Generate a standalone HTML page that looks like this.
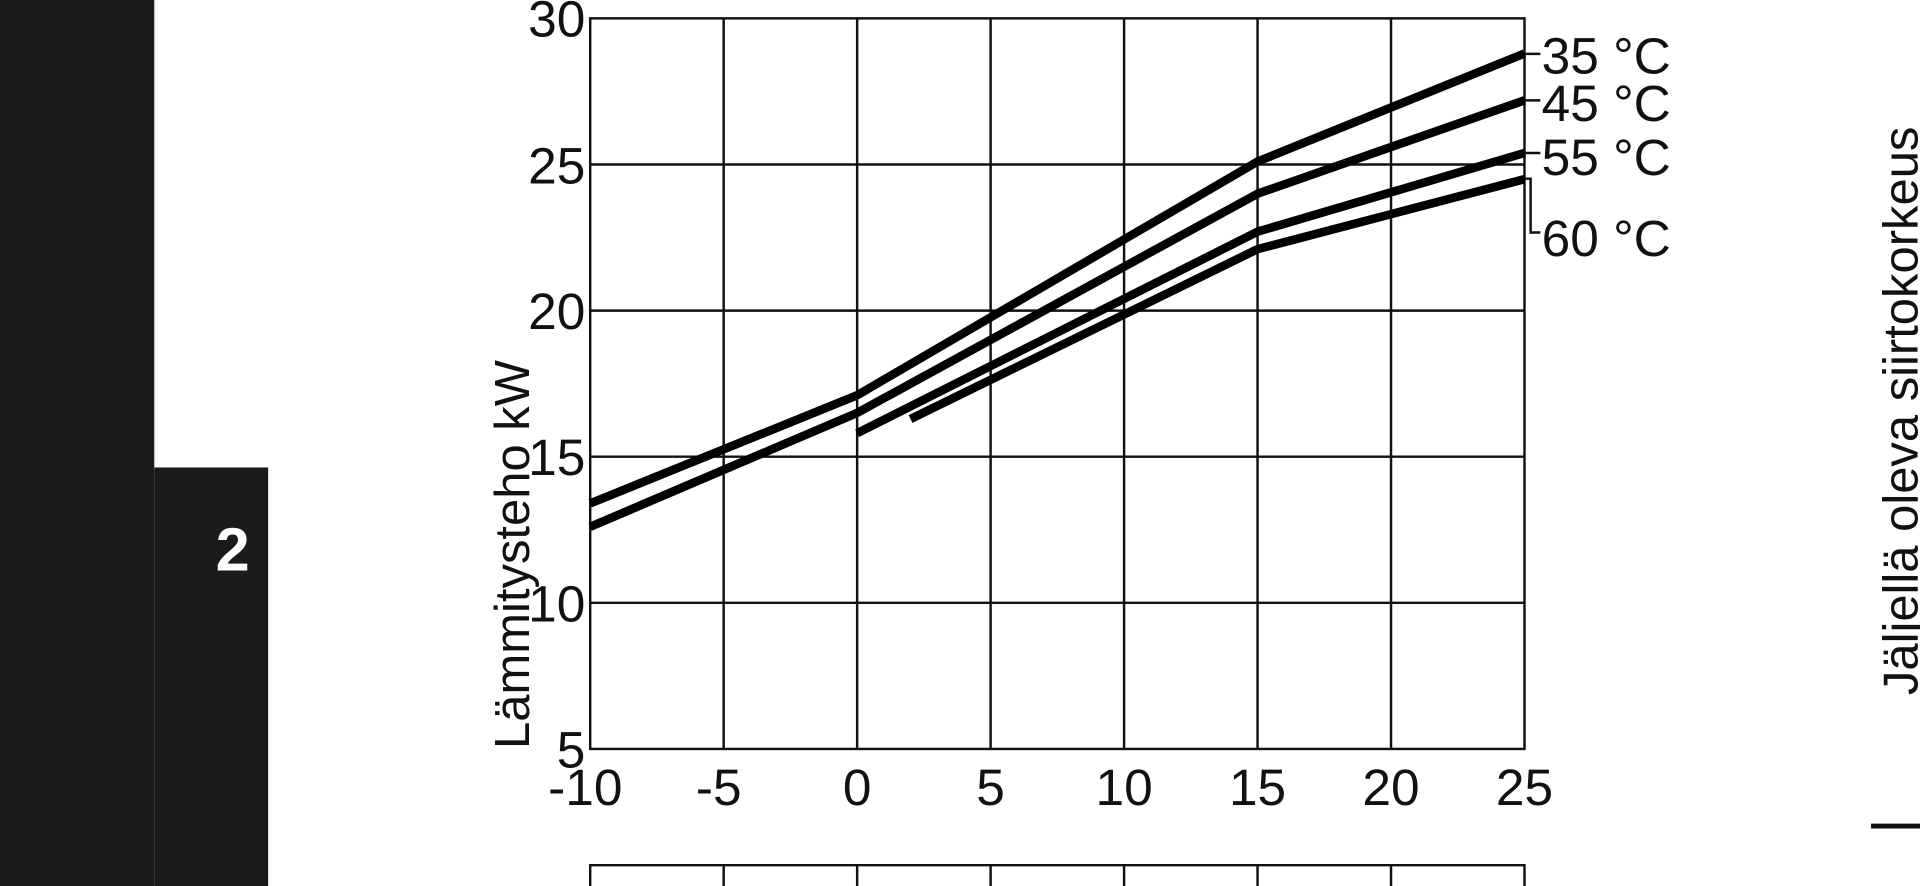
<!DOCTYPE html>
<html><head><meta charset="utf-8"><style>
html,body{margin:0;padding:0;background:#fff;width:1920px;height:886px;overflow:hidden}
svg{display:block}
text{font-family:"Liberation Sans",Arial,sans-serif;fill:#111}
</style></head><body>
<svg width="1920" height="886" viewBox="0 0 1568 724" preserveAspectRatio="none">
<rect width="1568" height="724" fill="#fff"/>
<rect x="0" y="0" width="126" height="724" fill="#1b1b1c"/>
<rect x="126" y="382" width="93" height="342" fill="#1b1b1c"/>
<text x="190" y="466" font-size="50" font-weight="bold" text-anchor="middle" style="fill:#fff">2</text>
<g stroke="#111" stroke-width="2" fill="none">
<rect x="482" y="15" width="763" height="597"/>
<line x1="591" y1="15" x2="591" y2="612"/><line x1="700" y1="15" x2="700" y2="612"/>
<line x1="809" y1="15" x2="809" y2="612"/><line x1="918" y1="15" x2="918" y2="612"/>
<line x1="1027" y1="15" x2="1027" y2="612"/><line x1="1136" y1="15" x2="1136" y2="612"/>
<line x1="482" y1="134.4" x2="1245" y2="134.4"/><line x1="482" y1="253.8" x2="1245" y2="253.8"/>
<line x1="482" y1="373.2" x2="1245" y2="373.2"/><line x1="482" y1="492.6" x2="1245" y2="492.6"/>
<path d="M482 724V707H1245V724M591 707V724M700 707V724M809 707V724M918 707V724M1027 707V724M1136 707V724"/>
<path d="M1245 44H1258M1245 82H1258M1245 125H1258M1245 146H1250V190H1258"/>
</g>
<g stroke="#000" stroke-width="7" fill="none" stroke-linejoin="round">
<polyline points="482,411.4 700,323 1027,132 1245,43.7"/>
<polyline points="482,430.5 700,337.4 1027,158.3 1245,82"/>
<polyline points="700,354 1027,189.3 1245,125"/>
<polyline points="743.6,342.4 1027,203.6 1245,146.4"/>
</g>
<g font-size="42">
<text x="478" y="30" text-anchor="end">30</text>
<text x="478" y="150" text-anchor="end">25</text>
<text x="478" y="269" text-anchor="end">20</text>
<text x="478" y="388" text-anchor="end">15</text>
<text x="478" y="508" text-anchor="end">10</text>
<text x="478" y="627" text-anchor="end">5</text>
<g text-anchor="middle">
<text x="478" y="658">-10</text><text x="587" y="658">-5</text><text x="700" y="658">0</text>
<text x="809" y="658">5</text><text x="918" y="658">10</text><text x="1027" y="658">15</text>
<text x="1136" y="658">20</text><text x="1245" y="658">25</text></g>
<text x="1259" y="60">35 °C</text>
<text x="1259" y="99">45 °C</text>
<text x="1259" y="143">55 °C</text>
<text x="1259" y="209">60 °C</text>
</g>
<text transform="translate(432,612) rotate(-90)" font-size="40">Lämmitysteho kW</text>
<text transform="translate(1566,568) rotate(-90)" font-size="40">Jäljellä oleva siirtokorkeus</text>
<line x1="1528" y1="675" x2="1568" y2="675" stroke="#111" stroke-width="4"/>
</svg>
</body></html>
